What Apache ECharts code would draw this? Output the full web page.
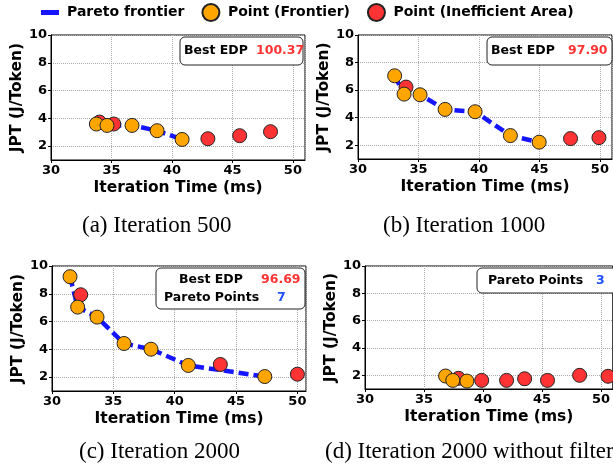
<!DOCTYPE html>
<html>
<head>
<meta charset="utf-8">
<script src="https://cdn.jsdelivr.net/npm/echarts@6/dist/echarts.min.js"></script>
<style>
  html, body { margin: 0; padding: 0; background: #fff; }
  #chart { width: 613px; height: 471px; }
</style>
</head>
<body>
<div id="chart"></div>
<script>
// 数据（从图上读出来的）
const frontA = [[33.75, 3.59], [34.63, 3.49], [36.70, 3.49], [38.77, 3.11], [40.84, 2.48]]
const ineffA = [[34.00, 3.73], [35.19, 3.59], [42.97, 2.53], [45.60, 2.75], [48.15, 3.04]]

const frontB = [[33.03, 7.04], [33.81, 5.71], [35.13, 5.66], [37.20, 4.60], [39.68, 4.43], [42.60, 2.70], [44.98, 2.22]]
const ineffB = [[33.97, 6.22], [47.57, 2.48], [49.92, 2.55]]

const frontC = [[31.47, 9.23], [32.09, 7.04], [33.67, 6.32], [35.87, 4.42], [38.07, 4.01], [41.11, 2.84], [47.34, 2.04]]
const ineffC = [[32.34, 7.93], [43.72, 2.91], [50.00, 2.21]]

const frontD = [[36.83, 1.95], [37.44, 1.63], [38.64, 1.58]]
const ineffD = [[37.92, 1.78], [39.89, 1.63], [42.00, 1.63], [43.53, 1.75], [45.47, 1.63], [48.19, 2.00], [50.60, 1.93]]

const yTicks = [2, 4, 6, 8, 10]

const FONT = 'DejaVu Sans'
const BLUE = '#1515ff'
const ORANGE = '#ffa500'
const RED = '#ff3333'

// 四个子图的位置
const grids = [
  {left: 51, top: 35, width: 254, height: 125},
  {left: 358, top: 35, width: 254, height: 124},
  {left: 52, top: 266, width: 254, height: 125},
  {left: 365, top: 266, width: 254, height: 123},
]
const xMax = [51, 51, 50.7, 51]
const panels = [
  [frontA, ineffA],
  [frontB, ineffB],
  [frontC, ineffC],
  [frontD, ineffD],
]

const xAxes = grids.map((g, i) => ({
  gridIndex: i,
  type: 'value',
  min: 30,
  max: xMax[i],
  interval: 5,
  name: 'Iteration Time (ms)',
  nameLocation: 'middle',
  nameGap: 20,
  nameTextStyle: {fontFamily: FONT, fontWeight: 'bold', fontSize: 15.5, color: '#000'},
  axisLine: {show: true, onZero: false, lineStyle: {color: '#000', width: 1}},
  axisTick: {show: true, length: 3, lineStyle: {color: '#000'}},
  axisLabel: {fontFamily: FONT, fontWeight: 'bold', fontSize: 13, color: '#000', margin: 4, showMaxLabel: false},
  splitLine: {show: true, lineStyle: {type: 'dotted', color: '#aaa', width: 1}}
}))

const yAxes = grids.map((g, i) => ({
  gridIndex: i,
  type: 'value',
  min: 1,
  max: 10,
  name: 'JPT (J/Token)',
  nameLocation: 'middle',
  nameGap: 26,
  nameTextStyle: {fontFamily: FONT, fontWeight: 'bold', fontSize: 15.5, color: '#000'},
  axisLine: {show: true, onZero: false, lineStyle: {color: '#000', width: 1}},
  axisTick: {show: true, length: 3, customValues: yTicks, lineStyle: {color: '#000'}},
  axisLabel: {fontFamily: FONT, fontWeight: 'bold', fontSize: 13, color: '#000', margin: 4, customValues: yTicks},
  splitLine: {show: true, lineStyle: {type: 'dotted', color: '#aaa', width: 1}}
}))

let series = []
panels.forEach((p, i) => {
  series.push({
    name: 'Pareto frontier',
    type: 'line',
    xAxisIndex: i, yAxisIndex: i,
    data: p[0],
    symbol: 'none',
    color: BLUE,
    lineStyle: {color: BLUE, width: 4.5, type: [10, 5]},
    z: 1
  })
  series.push({
    name: 'Point (Inefficient Area)',
    type: 'scatter',
    xAxisIndex: i, yAxisIndex: i,
    data: p[1],
    symbolSize: 14,
    itemStyle: {color: RED, borderColor: '#222', borderWidth: 1, opacity: 1},
    z: 2
  })
  series.push({
    name: 'Point (Frontier)',
    type: 'scatter',
    xAxisIndex: i, yAxisIndex: i,
    data: p[0],
    symbolSize: 14,
    itemStyle: {color: ORANGE, borderColor: '#222', borderWidth: 1, opacity: 1},
    z: 3
  })
})

// 图中的标注框和子图标题
const boxStyle = {fill: '#fff', stroke: '#222', lineWidth: 1}
const txt = (x, y, s, color) => ({
  type: 'text', x: x, y: y, z: 11,
  style: {text: s, fill: color || '#000', font: 'bold 12.5px "DejaVu Sans"', textVerticalAlign: 'middle'}
})
const caption = (x, y, s) => ({
  type: 'text', x: x, y: y,
  style: {text: s, fill: '#000', font: '23px "Liberation Serif"', textVerticalAlign: 'middle'}
})

const graphics = [
  {type: 'rect', shape: {x: 180, y: 37, width: 123, height: 28, r: 5}, style: boxStyle, z: 10},
  txt(184, 51, 'Best EDP'),
  txt(256, 51, '100.37', RED),

  {type: 'rect', shape: {x: 487, y: 37, width: 125, height: 28, r: 5}, style: boxStyle, z: 10},
  txt(491, 51, 'Best EDP'),
  txt(568, 51, '97.90', RED),

  {type: 'rect', shape: {x: 156, y: 268, width: 149, height: 41, r: 5}, style: boxStyle, z: 10},
  txt(179, 280, 'Best EDP'),
  txt(261, 280, '96.69', RED),
  txt(164, 298, 'Pareto Points'),
  txt(277, 298, '7', '#2050ff'),

  {type: 'rect', shape: {x: 477, y: 268, width: 145, height: 25, r: 5}, style: boxStyle, z: 10},
  txt(488, 281, 'Pareto Points'),
  txt(596, 281, '3', '#2050ff'),

  caption(82, 226, '(a) Iteration 500'),
  caption(383, 226, '(b) Iteration 1000'),
  caption(79, 452, '(c) Iteration 2000'),
  caption(325, 452, '(d) Iteration 2000 without filter'),
]

let option = {
  animation: false,
  backgroundColor: '#fff',
  textStyle: {fontFamily: FONT},
  legend: {
    top: -2,
    left: 36,
    itemWidth: 18,
    itemHeight: 17,
    itemGap: 17,
    textStyle: {fontFamily: FONT, fontWeight: 'bold', fontSize: 14, color: '#000', padding: [0, 0, 0, 3]},
    data: [
      {name: 'Pareto frontier', icon: 'path://M0,0H18V5H0Z', itemStyle: {color: BLUE, borderWidth: 0}},
      {name: 'Point (Frontier)', icon: 'circle'},
      {name: 'Point (Inefficient Area)', icon: 'circle'}
    ]
  },
  grid: grids.map(g => Object.assign({show: true, borderColor: '#000', borderWidth: 1, backgroundColor: 'transparent'}, g)),
  xAxis: xAxes,
  yAxis: yAxes,
  series: series,
  graphic: graphics
}

let myChart = echarts.init(document.getElementById('chart'))
myChart.setOption(option)
</script>
</body>
</html>
